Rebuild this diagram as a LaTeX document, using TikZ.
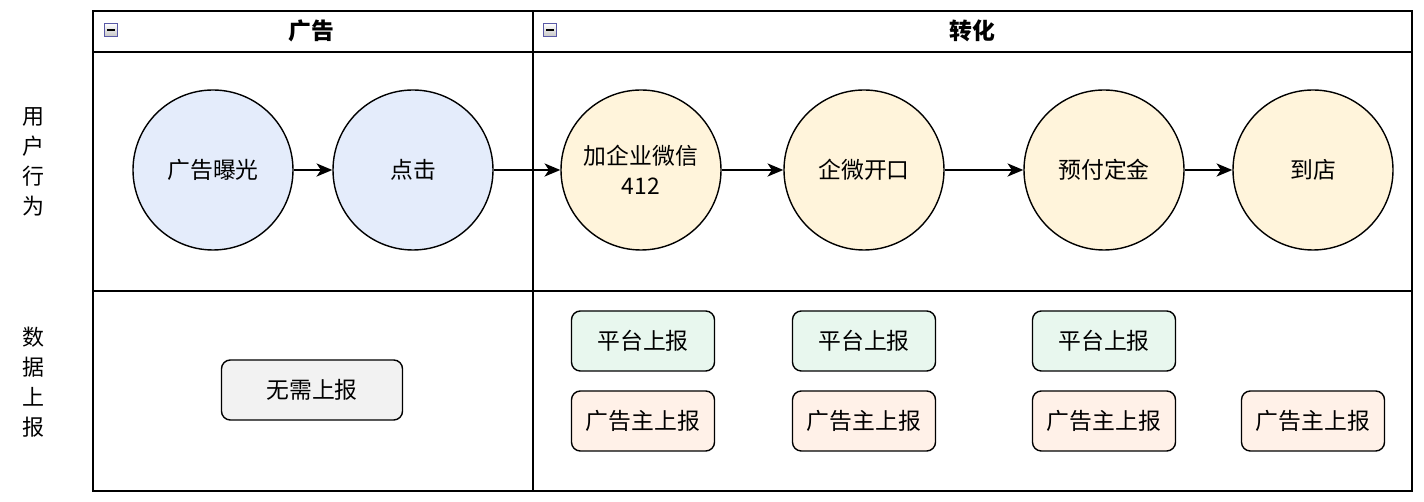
\documentclass[tikz,border=0pt]{standalone}
\usepackage{fontspec}
\setmainfont{Noto Sans CJK SC}
\definecolor{stageblue}{RGB}{228,236,251}
\definecolor{stageyellow}{RGB}{255,244,219}
\definecolor{reportgreen}{RGB}{232,247,238}
\definecolor{reportpeach}{RGB}{255,241,232}
\definecolor{reportgray}{RGB}{242,242,242}
\usetikzlibrary{arrows.meta,positioning}

\begin{document}
\begin{tikzpicture}[
  x=0.02cm,y=-0.02cm,
  every node/.style={font=\fontsize{13}{17}\selectfont},
  lanehead/.style={font=\fontsize{13}{17}\selectfont\bfseries},
  lanelabel/.style={align=center,font=\fontsize{12.5}{17}\selectfont},
  foldbox/.style={draw=gray!70!blue,top color=white,bottom color=gray!45,
                  minimum size=7.5pt,inner sep=0pt,line width=0.5pt},
  stagecircle/.style={circle,draw,thick,minimum size=160*0.02cm,align=center,inner sep=0pt},
  reportbox/.style={draw,thick,rounded corners=5pt,minimum width=143*0.02cm,
                    minimum height=60*0.02cm,inner sep=0pt},
  flow/.style={-{Stealth[length=9pt,width=7.5pt,inset=2.5pt]},thick},
]
  \useasboundingbox (0,0) rectangle (1424,502);

  % lanes
  \draw[line width=1.1pt] (93,11) rectangle (1412,491);
  \draw[line width=1.1pt] (93,52) -- (1412,52);
  \draw[line width=1.1pt] (93,291) -- (1412,291);
  \draw[line width=1.1pt] (533,11) -- (533,491);

  \node[foldbox] (foldad) at (111,30) {};
  \draw[line width=0.7pt] (107,30) -- (115,30);
  \node[foldbox] (foldcv) at (550,30) {};
  \draw[line width=0.7pt] (546,30) -- (554,30);
  \node[lanehead] (adhead) at (311,31) {广告};
  \node[lanehead] (cvhead) at (972,31) {转化};

  \node[lanelabel] (rowuser) at (33,162) {用\\户\\行\\为};
  \node[lanelabel] (rowdata) at (33,382) {数\\据\\上\\报};

  % user actions
  \node[stagecircle,fill=stageblue] (expose) at (213,170) {广告曝光};
  \node[stagecircle,fill=stageblue] (click) at (413,170) {点击};
  \node[stagecircle,fill=stageyellow] (wecom) at (641,170) {加企业微信\\412};
  \node[stagecircle,fill=stageyellow] (talk) at (864,170) {企微开口};
  \node[stagecircle,fill=stageyellow] (deposit) at (1104,170) {预付定金};
  \node[stagecircle,fill=stageyellow] (visit) at (1313,170) {到店};

  \draw[flow] (expose) -- (click);
  \draw[flow] (click) -- (wecom);
  \draw[flow] (wecom) -- (talk);
  \draw[flow] (talk) -- (deposit);
  \draw[flow] (deposit) -- (visit);

  % data reporting
  \node[reportbox,fill=reportgray,minimum width=181*0.02cm] (none) at (312,390) {无需上报};

  \node[reportbox,fill=reportgreen] (plat1) at (643,341) {平台上报};
  \node[reportbox,fill=reportgreen] (plat2) at (864,341) {平台上报};
  \node[reportbox,fill=reportgreen] (plat3) at (1104,341) {平台上报};

  \node[reportbox,fill=reportpeach] (adv1) at (643,421) {广告主上报};
  \node[reportbox,fill=reportpeach] (adv2) at (864,421) {广告主上报};
  \node[reportbox,fill=reportpeach] (adv3) at (1104,421) {广告主上报};
  \node[reportbox,fill=reportpeach] (adv4) at (1313,421) {广告主上报};
\end{tikzpicture}
\end{document}
